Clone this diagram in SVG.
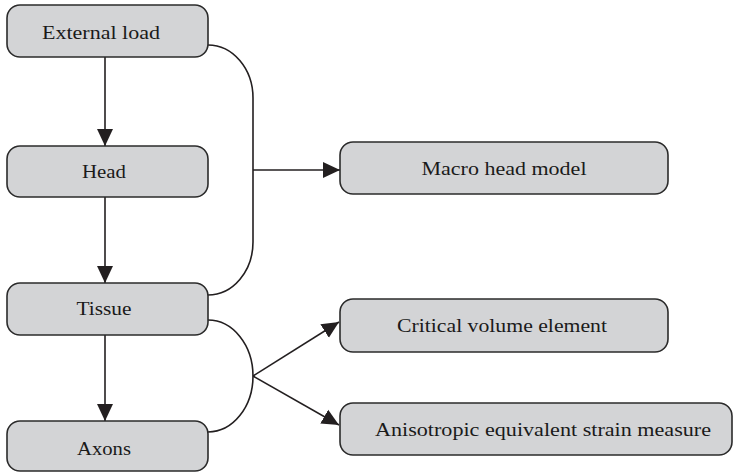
<svg xmlns="http://www.w3.org/2000/svg" width="733" height="473" viewBox="0 0 733 473">
<defs>
<marker id="ah" markerUnits="userSpaceOnUse" markerWidth="18" markerHeight="18" viewBox="0 0 18 18" refX="17" refY="9" orient="auto">
<path d="M0,1 L17,9 L0,17 Z" fill="#231f20"/>
</marker>
<style>
.box{fill:#d3d4d6;stroke:#2b2b2b;stroke-width:1.6}
.lbl{font-family:"Liberation Serif","DejaVu Serif",serif;font-size:18.5px;fill:#1a1a1a;text-anchor:middle}
.ln{fill:none;stroke:#231f20;stroke-width:1.6}
</style>
</defs>
<g id="connectors">
<line class="ln" x1="105" y1="57" x2="105" y2="146" marker-end="url(#ah)"/>
<line class="ln" x1="105" y1="197" x2="105" y2="283" marker-end="url(#ah)"/>
<line class="ln" x1="105" y1="335" x2="105" y2="421" marker-end="url(#ah)"/>
<path class="ln" d="M208,45 A45,53 0 0 1 253,98 L253,242 A45,53 0 0 1 208,295"/>
<line class="ln" x1="253" y1="170" x2="340" y2="170" marker-end="url(#ah)"/>
<path class="ln" d="M208,320 A45,56 0 0 1 208,432"/>
<line class="ln" x1="253" y1="376" x2="339" y2="322" marker-end="url(#ah)"/>
<line class="ln" x1="253" y1="376" x2="339" y2="425" marker-end="url(#ah)"/>
</g>
<g id="external-load">
<rect class="box" x="7" y="5" width="201" height="52" rx="13"/>
<text class="lbl" x="101" y="39" textLength="118" lengthAdjust="spacingAndGlyphs">External load</text>
</g>
<g id="head">
<rect class="box" x="7" y="146" width="201" height="51" rx="13"/>
<text class="lbl" x="104" y="178" textLength="44" lengthAdjust="spacingAndGlyphs">Head</text>
</g>
<g id="tissue">
<rect class="box" x="7" y="283" width="201" height="52" rx="13"/>
<text class="lbl" x="104" y="315" textLength="55" lengthAdjust="spacingAndGlyphs">Tissue</text>
</g>
<g id="axons">
<rect class="box" x="7" y="421" width="201" height="50" rx="13"/>
<text class="lbl" x="104" y="455" textLength="54" lengthAdjust="spacingAndGlyphs">Axons</text>
</g>
<g id="macro-head-model">
<rect class="box" x="340" y="142" width="328" height="52" rx="13"/>
<text class="lbl" x="504" y="175" textLength="165" lengthAdjust="spacingAndGlyphs">Macro head model</text>
</g>
<g id="critical-volume-element">
<rect class="box" x="340" y="299" width="328" height="53" rx="13"/>
<text class="lbl" x="502" y="332" textLength="210" lengthAdjust="spacingAndGlyphs">Critical volume element</text>
</g>
<g id="anisotropic-equivalent-strain-measure">
<rect class="box" x="340" y="403" width="392" height="52" rx="13"/>
<text class="lbl" x="543" y="436" textLength="336" lengthAdjust="spacingAndGlyphs">Anisotropic equivalent strain measure</text>
</g>
</svg>
